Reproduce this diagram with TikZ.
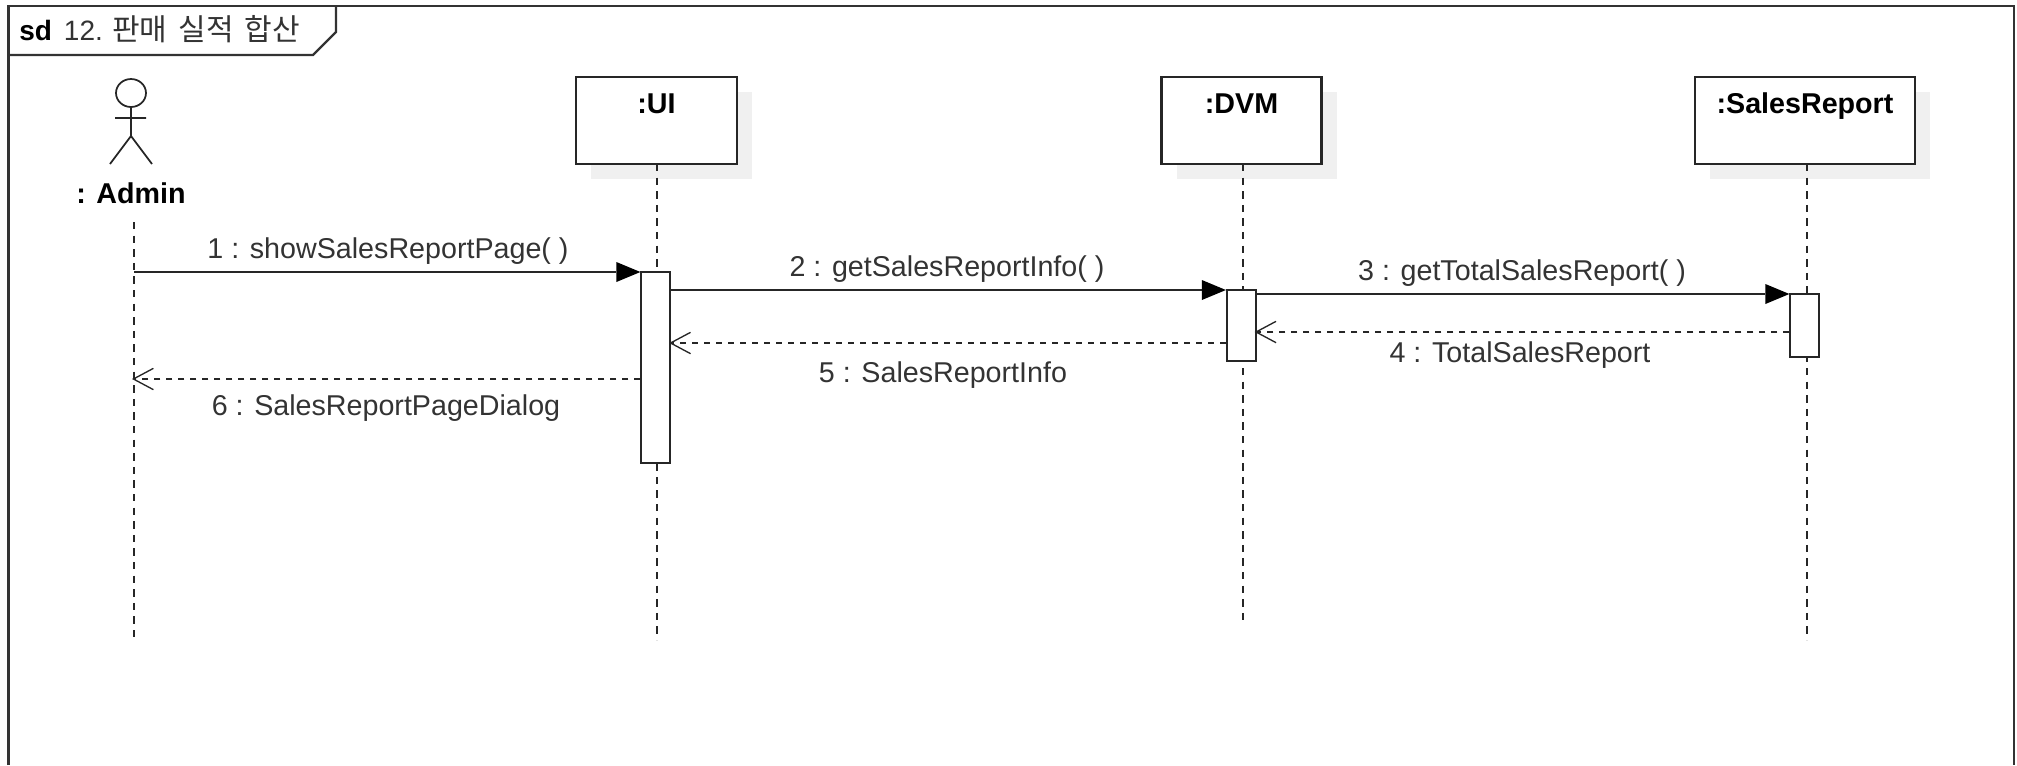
\documentclass[tikz,border=0pt]{standalone}
\usepackage{fontspec}
\setmainfont{Liberation Sans}
\newfontfamily\krfont{Noto Sans CJK KR}
\usetikzlibrary{arrows.meta, shadows}
\definecolor{msgtext}{RGB}{51,51,51}
\tikzset{
  lifebox/.style={draw=black!85, line width=1.7pt, fill=white, inner sep=0pt, text height=27pt, text depth=38.25pt, minimum width=#1, font=\fontsize{21.5}{25}\selectfont\bfseries,
    drop shadow={shadow xshift=11.25pt, shadow yshift=-11.25pt, fill=black!6, opacity=1}},
  actbar/.style={draw=black!85, line width=1.3pt, fill=white, minimum width=21.75pt, inner sep=0pt},
  lifeline/.style={line width=1.1pt, draw=black!85, dash pattern=on 5.5pt off 4.7pt},
  callmsg/.style={line width=2pt, draw=black!85, -{Triangle[length=18pt,width=15pt,line width=0pt,fill=black]}},
  backmsg/.style={line width=1.7pt, draw=black!85, dash pattern=on 4.5pt off 4.5pt, shorten >=-1.5pt, -{Straight Barb[length=15pt,width=16pt,line width=1pt]}},
  msglabel/.style={text=msgtext, font=\fontsize{21.5}{25}\selectfont, inner sep=0pt},
}
\begin{document}
\begin{tikzpicture}[x=0.75pt,y=0.75pt,yscale=-1,xscale=1]
\useasboundingbox (0,0) rectangle (2017,765);

% Frame
\draw [line width=1.8pt, draw=black!80] (8.5,765) -- (8.5,6) -- (2014,6) -- (2014,765) ;
\draw [line width=1.8pt, draw=black!80] (8.5,55) -- (313,55) -- (336,32) -- (336,6) ;
% Text Node
\node [anchor=west, inner sep=0pt, font=\fontsize{21}{25}\selectfont] (title) at (19,29) {\textbf{sd}\hspace{9pt}{\color{msgtext}12.\hspace{7pt}{\krfont\fontsize{22.5}{25}\selectfont 판매\hspace{8.4pt}실적\hspace{8.4pt}합산}}};

% Actor
\draw [line width=1.3pt, draw=black!85] (131,93) ellipse (15 and 14) ;
\draw [line width=1.3pt, draw=black!85] (131,107) -- (131,136) (115,118) -- (146,118) (110,164) -- (131,136) -- (152,164) ;
% Text Node
\node [font=\fontsize{21.5}{25}\selectfont\bfseries, inner sep=0pt] (admin) at (131,193) {: Admin};

% Lifeline heads
\node [lifebox=120.75pt] (ui) at (656.5,120.5) {:UI};
\node [lifebox=120pt] (dvm) at (1241.5,120.5) {:DVM};
\node [lifebox=165.5pt] (report) at (1805,120.5) {:SalesReport};

% Lifeline ends
\coordinate (adminstart) at (134,222);
\coordinate (adminend) at (134,640);
\coordinate (uistart) at (657,164);
\coordinate (uiend) at (657,640);
\coordinate (dvmstart) at (1243,164);
\coordinate (dvmend) at (1243,626);
\coordinate (reportstart) at (1807,164);
\coordinate (reportend) at (1807,640);

% Connection
\draw [lifeline] (adminstart) -- (adminend) ;
\draw [lifeline] (uistart) -- (uiend) ;
\draw [lifeline] (dvmstart) -- (dvmend) ;
\draw [lifeline] (reportstart) -- (reportend) ;

% Activation bars
\node [actbar, minimum height=143.25pt] (uibar) at (655.75,367.5) {};
\node [actbar, minimum height=53.25pt] (dvmbar) at (1241.25,325.5) {};
\node [actbar, minimum height=47.25pt] (reportbar) at (1804.75,325.5) {};

% Message heights
\coordinate (m1) at (0,272);
\coordinate (m2) at (0,290);
\coordinate (m3) at (0,294);
\coordinate (m4) at (0,332);
\coordinate (m5) at (0,343);
\coordinate (m6) at (0,379);

% Connection
\draw [callmsg] (adminstart |- m1) -- (uibar.west |- m1) ;
\draw [callmsg] (uibar.east |- m2) -- (dvmbar.west |- m2) ;
\draw [callmsg] (dvmbar.east |- m3) -- (reportbar.west |- m3) ;
\draw [backmsg] (reportbar.west |- m4) -- (dvmbar.east |- m4) ;
\draw [backmsg] (dvmbar.west |- m5) -- (uibar.east |- m5) ;
\draw [backmsg] (uibar.west |- m6) -- (adminstart |- m6) ;

% Text Node
\node [msglabel] (msg1) at (388,251) {1 : showSalesReportPage( )};
\node [msglabel] (msg2) at (947,269) {2 : getSalesReportInfo( )};
\node [msglabel] (msg3) at (1522,273) {3 : getTotalSalesReport( )};
\node [msglabel] (msg4) at (1520,355) {4 : TotalSalesReport};
\node [msglabel] (msg5) at (943,375) {5 : SalesReportInfo};
\node [msglabel] (msg6) at (386,408) {6 : SalesReportPageDialog};

\end{tikzpicture}
\end{document}
